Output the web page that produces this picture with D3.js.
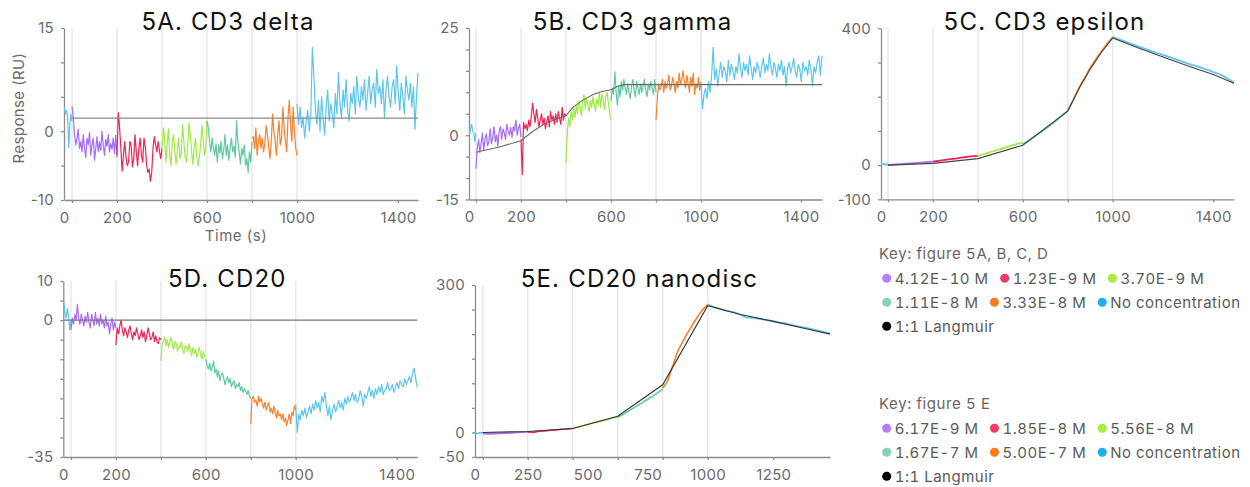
<!DOCTYPE html>
<html lang="en">
<head>
<meta charset="UTF-8">
<title>Figure 5</title>
<style>
  body { margin: 0; background: #fff; }
  svg { display: block; font-family: Inter, "Noto Sans", sans-serif; }
  .key text { font-variant-numeric: tabular-nums; }
</style>
</head>
<body>
<svg id="svg" width="1250" height="487"></svg>
<script src="https://d3js.org/d3.v7.min.js"></script>
<script>
// ---- data ----
// injection boundaries (s)
const injA = [0, 200, 400, 600, 800, 1000]
const injE = [0, 250, 437.5, 625, 812.5, 1000]

// 5A CD3 delta
const deltaPre = [3.5, 2.5, 3.0, 1.8, -2.4, 1.0, 2.5, 1.5]
const deltaAssoc = [
  [3.6, 2.0, -0.5, -2.0, -1.0, 0.3, -2.5, -1.5, -3.0, -0.5, -2.5, -3.8, -1.0, -2.0, -0.2, -3.5, -2.0, -1.0, -4.2, -2.5, -0.8, -3.0, -1.5, -2.8, 0.0, -2.0, -3.5, -1.2, -2.2, -0.5, -3.0, -1.8, -2.6, -1.0, -3.2, -0.6, -3.8],
  [-3.5, 2.7, 0.5, -2.5, -5.8, -3.5, -1.5, -3.8, -5.0, -4.5, -1.5, -2.0, -5.2, -4.0, -0.5, -3.0, -5.0, -2.5, -1.0, -3.5, -4.5, -1.0, -2.2, -4.8, -6.0, -5.5, -7.3, -6.0, -2.5, -0.8, -2.0, -3.0, -1.5, -2.8, -4.0, -2.5],
  [-2.5, 0.5, -1.0, -4.5, -2.0, 0.3, -3.5, -5.0, -1.5, -0.5, -3.0, -4.8, -2.5, -1.0, -4.0, -3.0, 1.0, -1.5, -3.8, -4.5, -2.0, 1.2, -0.5, -3.0, -4.8, -2.5, -1.0, -3.5, -5.0, -4.0, -2.0, 0.8, -1.0, -3.5, -2.5, 1.5],
  [1.5, 0.5, -1.5, -3.0, -1.0, -2.5, -3.5, -1.8, -4.5, -2.0, -3.2, -1.5, -4.0, -2.8, -0.5, -3.5, -2.0, -4.2, -2.5, -1.0, -3.0, -2.2, -3.8, 1.5, -1.5, -3.0, -4.8, -2.5, -3.5, -2.0, -5.0, -4.0, -6.0, -3.0, -4.5, -1.5],
  [-1.0, -0.8, -2.5, 0.5, -3.5, -1.5, -0.5, -2.5, -1.0, -3.0, -1.8, 0.8, -0.5, -2.2, -4.0, -1.5, 2.5, 0.0, -1.5, -3.5, -0.5, 1.5, -2.0, -1.0, 3.5, 0.5, -1.5, -3.0, 2.0, 4.5, 1.0, -1.5, 3.5, 0.0, -2.5, -3.5]
]
const deltaDissoc = [4.0, 1.0, 3.5, 0.5, 2.0, -1.0, 1.5, 3.0, 0.0, 2.5, 12.2, 8.0, 3.0, 1.0, 4.5, 0.0, 5.0, 2.0, -0.5, 3.5, 6.0, 1.5, 4.0, 2.5, 0.5, 5.5, 2.5, 8.5, 4.0, 2.0, 6.0, 3.5, 7.5, 3.0, 1.5, 5.5, 4.0, 6.5, 2.5, 8.0, 5.0, 3.5, 6.5, 4.5, 7.5, 3.0, 5.5, 8.0, 4.0, 6.0, 7.0, 3.5, 9.0, 5.5, 6.5, 4.0, 7.5, 2.0, 6.0, 8.0, 5.0, 3.5, 6.5, 7.5, 4.0, 9.5, 5.5, 3.0, 7.0, 5.0, 2.5, 8.0, 6.0, 4.5, 7.0, 3.5, 6.5, 0.3, 5.0, 8.5]
const deltaFitT = [0, 1480]
const deltaFitV = [1.9, 1.9]

// 5B CD3 gamma
const gammaPre = [0.0, 1.5, 2.5, 1.0, 0.5, -1.5, 0.5]
const gammaAssoc = [
  [-7.8, -3.0, -1.0, -4.0, -2.0, 0.5, -3.5, -1.0, 0.3, -2.5, -1.5, 1.5, -2.0, -0.5, 2.0, -1.5, 0.0, -2.5, 1.0, 2.0, -1.0, 1.5, 0.5, -1.0, 2.5, 1.0, 0.0, 1.8, -0.5, 2.0, 1.0, 3.5, 0.0, 1.5, 2.5, -0.5],
  [-1.0, -9.2, 3.0, 1.5, 2.5, 1.0, 3.5, 2.0, 4.5, 7.5, 5.0, 3.0, 6.0, 4.0, 2.0, 3.5, 5.0, 2.5, 4.0, 1.5, 3.0, 4.5, 2.0, 5.5, 3.5, 4.5, 2.5, 5.0, 3.0, 5.5, 4.0, 2.5, 6.5, 3.5, 5.0, 4.5],
  [-6.5, 0.5, 4.0, 2.0, 5.5, 3.5, 6.5, 4.0, 7.0, 5.0, 8.0, 6.5, 4.5, 7.5, 9.5, 6.0, 8.5, 7.0, 5.5, 8.0, 6.5, 9.0, 7.5, 5.5, 8.5, 7.0, 10.0, 6.5, 9.5, 8.0, 6.0, 9.0, 10.0, 7.5, 5.0, 3.5],
  [8.0, 11.0, 9.5, 14.8, 10.0, 7.0, 11.5, 9.0, 12.5, 10.5, 13.0, 11.0, 9.5, 12.0, 10.0, 8.5, 11.5, 13.0, 10.5, 9.0, 12.5, 11.0, 9.5, 12.0, 10.0, 11.5, 13.0, 10.5, 9.0, 12.0, 10.5, 12.5, 11.0, 9.5, 13.0, 10.0],
  [3.5, 8.5, 12.0, 10.5, 11.5, 13.0, 10.0, 12.5, 11.0, 12.0, 14.0, 10.5, 11.5, 13.5, 12.0, 10.0, 12.5, 11.0, 14.5, 12.0, 13.0, 15.0, 12.5, 11.0, 14.0, 12.0, 10.0, 13.5, 11.5, 14.5, 9.5, 12.0, 11.0, 13.5, 10.5, 12.5]
]
const gammaDissoc = [12.0, 6.2, 9.5, 11.0, 8.5, 12.5, 10.0, 14.0, 20.5, 13.0, 15.5, 11.5, 14.5, 17.0, 13.5, 16.0, 15.0, 12.5, 17.5, 14.0, 16.5, 15.0, 13.0, 16.0, 14.5, 19.0, 15.5, 13.5, 17.0, 15.0, 16.5, 14.0, 18.5, 15.5, 13.0, 16.0, 14.5, 17.0, 15.5, 13.5, 16.0, 18.0, 14.5, 16.5, 15.0, 19.0, 16.0, 14.0, 17.0, 15.5, 13.5, 16.5, 15.0, 17.5, 14.0, 16.0, 11.5, 15.5, 17.0, 14.5, 16.0, 18.0, 15.0, 13.5, 16.5, 15.5, 12.5, 17.0, 15.0, 16.0, 14.0, 17.5, 15.5, 11.5, 16.0, 14.5, 17.0, 18.5, 14.0, 18.5]
const gammaFitT = [0, 100, 200, 250, 300, 350, 400, 430, 470, 520, 560, 600, 630, 660, 1480]
const gammaFitV = [-4.0, -2.8, -1.3, 0.8, 2.5, 3.6, 4.5, 6.5, 8.0, 9.5, 10.2, 10.6, 11.4, 11.8, 11.8]

// 5C CD3 epsilon
const epsilonPre = [3, 2, 4, 1, 2]
const epsilonAssoc = [
  [0, 1, 2, 3, 4, 5, 6, 7, 8, 9, 10],
  [10, 12, 14, 16, 17.5, 19, 21, 23, 24.5, 26, 27],
  [27, 31, 35, 39, 43, 47, 51, 55, 59, 63, 66],
  [61, 69, 78, 87, 96, 106, 116, 126, 137, 148, 159],
  [160, 185, 212, 238, 260, 284, 304, 323, 341, 358, 374]
]
const epsilonDissoc = [375, 369, 364, 358, 353, 347, 342, 337, 332, 327, 322, 317, 312, 307, 302, 297, 292, 288, 283, 278, 272, 267, 260, 251, 241]
const epsilonFitT = [0, 200, 400, 600, 800, 850, 900, 950, 1000, 1100, 1200, 1300, 1400, 1480]
const epsilonFitV = [0, 5, 19, 58, 158, 224, 281, 330, 372, 343, 316, 290, 265, 239]

// 5D CD20
const cd20Pre = [4.5, 2.0, 0.5, 3.0, 1.0, -2.5, 0.0]
const cd20Assoc = [
  [-2.5, 0.5, -1.0, 1.5, 0.0, 4.0, 0.5, -1.0, 1.5, 0.0, -1.5, 1.0, -0.5, 2.0, -0.5, -2.0, 1.5, 0.0, -1.5, 2.0, -1.0, 0.5, -1.5, 1.5, -1.0, 0.0, -2.0, 1.0, -1.5, -0.5, -3.5, -1.0, 0.5, -2.5, -0.5, -2.0],
  [-6.4, -2.0, -3.5, -1.5, 0.0, -2.5, -4.0, -2.0, -3.0, -4.5, -2.5, -1.5, -3.5, -5.0, -3.0, -4.0, -2.0, -3.5, -5.0, -4.0, -2.5, -4.5, -3.0, -5.5, -4.0, -2.0, -3.5, -5.0, -4.5, -3.0, -5.5, -4.0, -5.5, -6.0, -4.5, -5.0],
  [-10.4, -6.0, -5.5, -4.3, -6.5, -5.0, -7.0, -5.5, -4.5, -6.5, -7.5, -5.5, -6.0, -8.0, -6.5, -7.0, -5.5, -7.5, -8.5, -6.5, -7.0, -8.0, -6.0, -7.5, -9.0, -7.0, -8.5, -7.5, -9.5, -8.0, -7.0, -9.0, -10.0, -8.0, -9.5, -9.0],
  [-10.0, -11.5, -12.5, -11.0, -13.0, -12.0, -10.5, -13.5, -12.5, -14.5, -13.0, -15.5, -14.0, -13.5, -15.0, -16.5, -15.0, -14.5, -16.0, -15.0, -17.0, -16.0, -15.5, -17.5, -16.5, -17.0, -16.0, -18.0, -17.0, -18.5, -17.5, -18.0, -19.0, -18.0, -19.5, -20.0],
  [-26.6, -20.0, -19.5, -21.0, -20.5, -22.0, -19.5, -21.0, -20.0, -21.5, -22.5, -21.0, -23.0, -22.0, -21.0, -23.5, -22.5, -24.0, -22.0, -23.5, -25.0, -23.0, -24.5, -24.0, -25.5, -24.0, -26.0, -25.0, -27.0, -25.5, -24.0, -26.5, -23.5, -24.5, -22.0, -23.0]
]
const cd20Dissoc = [-21.5, -28.8, -24.0, -25.5, -23.0, -24.5, -22.5, -25.0, -23.5, -22.0, -24.0, -21.5, -23.0, -20.5, -22.5, -21.0, -23.5, -19.5, -21.0, -18.5, -22.0, -24.5, -22.0, -25.5, -23.0, -21.5, -23.5, -22.0, -20.5, -22.5, -21.0, -23.0, -20.0, -21.5, -19.5, -21.0, -20.0, -18.5, -20.5, -19.0, -21.0, -20.5, -18.0, -19.5, -22.0, -19.0, -20.0, -18.5, -17.0, -19.5, -18.0, -20.0, -17.5, -19.0, -17.0, -18.5, -16.5, -19.0, -18.0, -17.5, -16.0, -18.0, -17.5, -16.5, -18.5, -17.0, -16.0, -17.5, -15.5, -16.5, -17.0, -15.0, -16.5, -15.5, -14.5, -16.0, -13.5, -12.3, -15.0, -17.2]
const cd20FitT = [-34, 1480]
const cd20FitV = [0, 0]

// 5E CD20 nanodisc
const nanoPre = [-1, -2, 0, -1.5]
const nanoAssoc = [
  [-2, -3, -2.5, -2, -1.5, -1, 0, 0.5, 1],
  [1, 0, 2.5, 3, 4.5, 5, 6.5, 7, 8],
  [8, 11, 14, 17, 20, 23, 26, 29, 31],
  [31, 37, 44, 51, 58, 65, 72, 80, 88],
  [90, 105, 135, 165, 185, 203, 220, 236, 250, 260]
]
const nanoDissoc = [261, 255, 251, 247, 245, 240, 234, 233, 231, 229, 227, 224, 222, 219, 216, 214, 211, 208, 205, 202]
const nanoFitT = [0, 250, 437.5, 625, 812.5, 1000, 1125, 1250, 1375, 1466]
const nanoFitV = [0, 2, 8, 33, 97, 258, 240, 226, 211, 200]

// legends
const key1Title = 'Key: figure 5A, B, C, D'
const key1Labels = ['4.12E-10 M', '1.23E-9 M', '3.70E-9 M', '1.11E-8 M', '3.33E-8 M', 'No concentration', '1:1 Langmuir']
const key2Title = 'Key: figure 5 E'
const key2Labels = ['6.17E-9 M', '1.85E-8 M', '5.56E-8 M', '1.67E-7 M', '5.00E-7 M', 'No concentration', '1:1 Langmuir']

// colours: 5 concentrations, no concentration, fit
const dotColors = ['#b47ff8', '#ef3a6b', '#a8ee3e', '#84d3b5', '#fb7a1a', '#1ab2e8', '#000000']
const lineColors = ['#a56cf5', '#ee2457', '#a2e84a', '#5fc9a3', '#f9802c', '#5ec6ec']

const svg = d3.select('#svg')
svg.append('rect').attr('width', 1250).attr('height', 487).attr('fill', '#fff')

const panels = [
  { title: '5A. CD3 delta', xd: [-34, 0, 1000, 1400, 1480], xr: [64, 72, 297, 398, 418], top: 28, bottom: 200,
    yd: [-10, 15], yStep: 5, yLabels: [15, 0, -10], inj: injA, marks: [0, 200, 400, 600, 800, 1000, 1400], labels: [0, 200, 600, 1000, 1400],
    pre: deltaPre, assoc: deltaAssoc, dissoc: deltaDissoc, fitT: deltaFitT, fitV: deltaFitV, fitColor: '#8a8a8a', lw: 1.2, titleY: 30 },
  { title: '5B. CD3 gamma', xd: [-34, 0, 1000, 1400, 1480], xr: [469, 476, 701, 801, 822], top: 28, bottom: 199.5,
    yd: [-15, 25], yStep: 5, yLabels: [25, 0, -15], inj: injA, marks: [0, 200, 400, 600, 800, 1000, 1400], labels: [0, 200, 600, 1000, 1400],
    pre: gammaPre, assoc: gammaAssoc, dissoc: gammaDissoc, fitT: gammaFitT, fitV: gammaFitV, fitColor: '#6a6a6a', lw: 1.2, titleY: 30 },
  { title: '5C. CD3 epsilon', xd: [-34, 0, 1000, 1400, 1480], xr: [881, 888, 1112.7, 1213.3, 1234], top: 28.3, bottom: 199.3,
    yd: [-100, 400], yStep: 100, yLabels: [400, 0, -100], inj: injA, marks: [0, 200, 400, 600, 800, 1000, 1400], labels: [0, 200, 600, 1000, 1400],
    pre: epsilonPre, assoc: epsilonAssoc, dissoc: epsilonDissoc, fitT: epsilonFitT, fitV: epsilonFitV, fitColor: '#444', lw: 1.8, titleY: 30 },
  { title: '5D. CD20', xd: [-34, 0, 1000, 1400, 1480], xr: [63.3, 71, 295.7, 396.7, 417.3], top: 281, bottom: 457,
    yd: [-35, 10], yStep: 5, yLabels: [10, 0, -35], inj: injA, marks: [0, 200, 400, 600, 800, 1000, 1400], labels: [0, 200, 600, 1000, 1400],
    pre: cd20Pre, assoc: cd20Assoc, dissoc: cd20Dissoc, fitT: cd20FitT, fitV: cd20FitV, fitColor: '#777', lw: 1.2, titleY: 287 },
  { title: '5E. CD20 nanodisc', xd: [-43, 0, 250, 1000, 1250, 1466], xr: [475, 482.7, 527.7, 707.7, 773.3, 830], top: 285, bottom: 457,
    yd: [-50, 300], yStep: 50, yLabels: [300, 0, -50], inj: injE, marks: [0, 250, 437.5, 625, 812.5, 1000, 1250], labels: [0, 250, 500, 750, 1000, 1250],
    pre: nanoPre, assoc: nanoAssoc, dissoc: nanoDissoc, fitT: nanoFitT, fitV: nanoFitV, fitColor: '#333', lw: 1.6, titleY: 287 }
]

// spread a list of readings evenly over [t0, t1]
const toPoints = (vals, t0, t1) => vals.map((v, i) => [t0 + i * (t1 - t0) / (vals.length - 1), v])

function styleAxis(g) {
  g.attr('font-family', null).attr('font-size', null)
  g.select('.domain').attr('stroke', '#8c8c8c').attr('stroke-width', 1.3)
  g.selectAll('.tick line').attr('stroke', '#8c8c8c').attr('stroke-width', 1.3)
  g.selectAll('.tick text').attr('fill', '#6b6b6b').attr('font-size', 15).attr('letter-spacing', 0.3)
}

panels.forEach((p, k) => {
  const x = d3.scaleLinear().domain(p.xd).range(p.xr)
  const y = d3.scaleLinear().domain(p.yd).range([p.bottom, p.top])
  const g = svg.append('g')
  const x0 = p.xr[0], x1 = p.xr[p.xr.length - 1]

  // injection gridlines
  g.selectAll('line.grid').data(p.inj).join('line').attr('class', 'grid')
    .attr('x1', d => x(d)).attr('x2', d => x(d))
    .attr('y1', p.top).attr('y2', p.bottom)
    .attr('stroke', '#e6e8f0').attr('stroke-width', 1.5)

  // y axis
  const yAxis = d3.axisLeft(y)
    .tickValues(d3.range(p.yd[0], p.yd[1] + 0.001, p.yStep))
    .tickSize(3).tickSizeOuter(0).tickPadding(7)
    .tickFormat(d => p.yLabels.includes(d) ? d : '')
  g.append('g').attr('transform', `translate(${x0},0)`).call(yAxis).call(styleAxis)

  // x axis: tick marks at injections, labels where the figure has them
  const allTicks = Array.from(new Set([...p.marks, ...p.labels])).sort((a, b) => a - b)
  const xAxis = d3.axisBottom(x).tickValues(allTicks).tickSize(3).tickSizeOuter(0).tickPadding(9)
    .tickFormat(d => p.labels.includes(d) ? d : '')
  const xg = g.append('g').attr('transform', `translate(0,${p.bottom})`).call(xAxis).call(styleAxis)
  xg.selectAll('.tick').filter(d => !p.marks.includes(d)).select('line').remove()
  xg.selectAll('.tick').filter(d => d === 0).select('text').attr('x', x0 - x(0))

  // sensorgram segments
  const line = d3.line().x(d => x(d[0])).y(d => y(d[1]))
  const segs = [{ pts: toPoints(p.pre, p.xd[0] + 2, 0), c: 5 }]
  p.assoc.forEach((vals, i) => segs.push({ pts: toPoints(vals, p.inj[i], p.inj[i + 1]), c: i }))
  segs.push({ pts: toPoints(p.dissoc, p.inj[5], p.xd[p.xd.length - 1]), c: 5 })
  g.selectAll('path.trace').data(segs).join('path').attr('class', 'trace')
    .attr('d', d => line(d.pts))
    .attr('fill', 'none')
    .attr('stroke', d => lineColors[d.c])
    .attr('stroke-width', p.lw)
    .attr('stroke-linejoin', 'round')

  // 1:1 Langmuir fit
  g.append('path')
    .attr('d', line(p.fitT.map((t, i) => [t, p.fitV[i]])))
    .attr('fill', 'none').attr('stroke', p.fitColor).attr('stroke-width', 1.1)

  // title
  g.append('text')
    .attr('x', (x0 + x1) / 2 - 13).attr('y', p.titleY)
    .attr('text-anchor', 'middle').attr('font-size', 24).attr('letter-spacing', 1.2).attr('fill', '#111')
    .text(p.title)

  if (k === 0) {
    g.append('text').attr('transform', 'translate(24,108) rotate(-90)')
      .attr('text-anchor', 'middle').attr('font-size', 15).attr('letter-spacing', 0.4).attr('fill', '#6b6b6b')
      .text('Response (RU)')
    g.append('text').attr('x', 236).attr('y', 241)
      .attr('text-anchor', 'middle').attr('font-size', 15).attr('letter-spacing', 0.5).attr('fill', '#6b6b6b')
      .text('Time (s)')
  }
})

// legends
function drawKey(title, labels, top) {
  const g = svg.append('g').attr('class', 'key')
  g.append('text').attr('x', 879).attr('y', top).attr('font-size', 15).attr('letter-spacing', 0.6).attr('fill', '#666').text(title)
  const rows = [labels.slice(0, 3), labels.slice(3, 6), labels.slice(6)]
  let idx = 0
  rows.forEach((row, r) => {
    let cx = 886.7
    const base = top + 25 + r * 24
    row.forEach(lab => {
      g.append('circle').attr('cx', cx).attr('cy', base - 5.7).attr('r', 4.5).attr('fill', dotColors[idx])
      const t = g.append('text').attr('x', cx + 8).attr('y', base).attr('font-size', 15).attr('letter-spacing', 0.5)
        .attr('fill', '#5a5a5a').text(lab)
      cx = cx + 8 + t.node().getComputedTextLength() + 16
      idx++
    })
  })
}
drawKey(key1Title, key1Labels, 259)
drawKey(key2Title, key2Labels, 409)
</script>
</body>
</html>
